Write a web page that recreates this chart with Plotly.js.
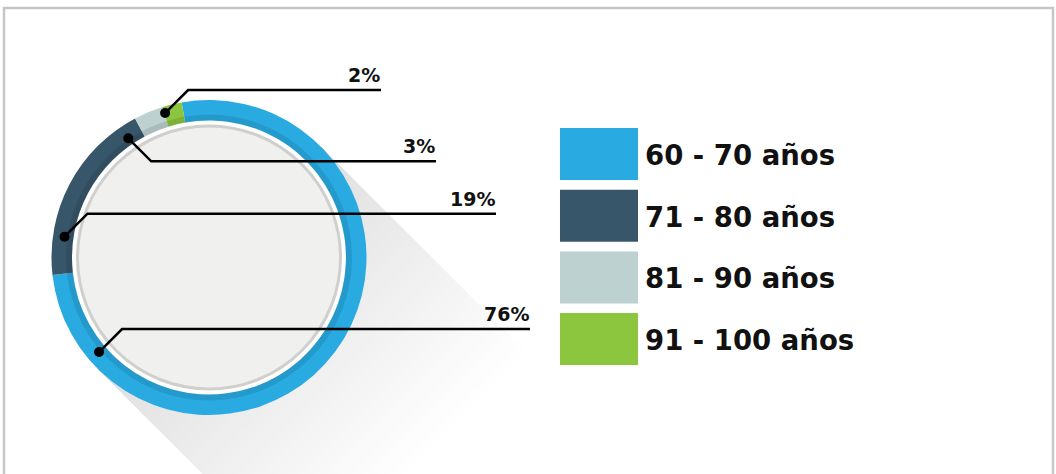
<!DOCTYPE html>
<html>
<head>
<meta charset="utf-8">
<script src="https://cdn.plot.ly/plotly-3.0.1.min.js"></script>
<style>html,body{margin:0;padding:0;background:#fff;}#chart{width:1056px;height:474px;}</style>
</head>
<body>
<div id="chart"></div>
<script>
// ---- data ----
const categories = ['60 - 70 años', '71 - 80 años', '81 - 90 años', '91 - 100 años'];
const values = [76, 19, 3, 2];
const colors = ['#29abe2', '#37566a', '#bdd1d0', '#8cc63f'];

// ---- layout helpers (pixel -> paper) ----
const W = 1056, H = 474;
const X = p => p / W;
const Y = p => 1 - p / H;
const cx = 209, cy = 257.5, R = 157.5;

// callout placement (layout only)
const calloutAngle = [-130.7, -81.8, -34.1, -16.9]; // degrees clockwise from top
const calloutR = [145, 146, 144, 151];
const calloutDir = [-1, -1, 1, -1];
const calloutEnd = [530, 496, 436, 381];

const shapes = [];
const annotations = [];

// border
shapes.push({type: 'rect', xref: 'paper', yref: 'paper', x0: X(4), x1: X(1053), y0: Y(490), y1: Y(8),
  line: {color: '#c6c6c6', width: 2.5}, fillcolor: 'rgba(0,0,0,0)', layer: 'below'});

// long shadow
const s2 = Math.SQRT1_2;
const p1 = [cx + R * s2, cy - R * s2], p2 = [cx - R * s2, cy + R * s2];
const nSh = 30;
for (let i = 1; i <= nSh; i++) {
  const L = 9 * i + 20;
  const q1 = [p1[0] + L * s2, p1[1] + L * s2], q2 = [p2[0] + L * s2, p2[1] + L * s2];
  const path = `M ${X(p1[0])},${Y(p1[1])} L ${X(p2[0])},${Y(p2[1])} L ${X(q2[0])},${Y(q2[1])} L ${X(q1[0])},${Y(q1[1])} Z`;
  shapes.push({type: 'path', xref: 'paper', yref: 'paper', path: path, layer: 'below',
    fillcolor: 'rgba(95,100,115,0.0095)', line: {width: 0}});
}
function circ(r, fill, lineColor, lineWidth, layer) {
  return {type: 'circle', xref: 'paper', yref: 'paper', x0: X(cx - r), x1: X(cx + r), y0: Y(cy + r), y1: Y(cy - r),
    fillcolor: fill, line: {color: lineColor, width: lineWidth}, layer: layer};
}
shapes.push(circ(137, '#ffffff', 'rgba(0,0,0,0)', 0, 'below'));
shapes.push(circ(131.5, '#f0f0ee', '#cfcfcd', 3, 'below'));
// darker inner band of ring
shapes.push(circ(140, 'rgba(0,0,0,0)', 'rgba(0,0,0,0.1)', 6, 'above'));

// callouts
values.forEach((v, i) => {
  const a = calloutAngle[i] * Math.PI / 180;
  const dx = cx + calloutR[i] * Math.sin(a), dy = cy - calloutR[i] * Math.cos(a);
  const ex = dx + 23, ey = dy + 23 * calloutDir[i];
  shapes.push({type: 'path', xref: 'paper', yref: 'paper',
    path: `M ${X(dx)},${Y(dy)} L ${X(ex)},${Y(ey)} L ${X(calloutEnd[i])},${Y(ey)}`,
    line: {color: '#000000', width: 2.5}});
  shapes.push({type: 'circle', xref: 'paper', yref: 'paper', x0: X(dx - 5), x1: X(dx + 5), y0: Y(dy + 5), y1: Y(dy - 5),
    fillcolor: '#000000', line: {width: 0}});
  annotations.push({xref: 'paper', yref: 'paper', x: X(calloutEnd[i] + 1), y: Y(ey - 2), xanchor: 'right', yanchor: 'bottom',
    text: '<b>' + v + '%</b>', showarrow: false, font: {family: 'DejaVu Sans', size: 19, color: '#111111'}});
});

// legend
const legTop = 128, legPitch = 61.7, legH = 52;
categories.forEach((c, i) => {
  const y0 = legTop + i * legPitch;
  shapes.push({type: 'rect', xref: 'paper', yref: 'paper', x0: X(560), x1: X(638), y0: Y(y0 + legH), y1: Y(y0),
    fillcolor: colors[i], line: {width: 0}});
  annotations.push({xref: 'paper', yref: 'paper', x: X(643), y: Y(y0 + legH / 2 + 1), xanchor: 'left', yanchor: 'middle',
    text: '<b>' + c + '</b>', showarrow: false, font: {family: 'DejaVu Sans', size: 27.5, color: '#111111'}});
});

const trace = {
  type: 'pie',
  labels: categories,
  values: values,
  marker: {colors: colors, line: {width: 0}},
  hole: 137 / R,
  sort: false,
  direction: 'clockwise',
  rotation: -10,
  textinfo: 'none',
  hoverinfo: 'label+percent',
  showlegend: false,
  domain: {x: [X(cx - R), X(cx + R)], y: [Y(cy + R), Y(cy - R)]}
};

const layout = {
  width: W, height: H,
  margin: {l: 0, r: 0, t: 0, b: 0},
  paper_bgcolor: '#ffffff',
  showlegend: false,
  shapes: shapes,
  annotations: annotations
};

Plotly.newPlot('chart', [trace], layout, {displayModeBar: false, staticPlot: true});
</script>
</body>
</html>
